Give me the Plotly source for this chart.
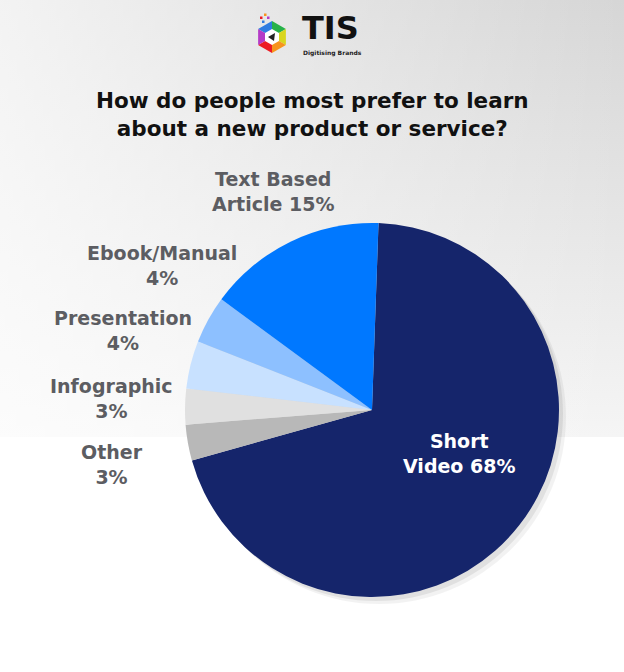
import math
import plotly.graph_objects as go

# survey answers, clockwise from 12 o'clock
labels = ["Short Video", "Other", "Infographic", "Presentation", "Ebook/Manual", "Text Based Article"]
shares = [68, 3, 3, 4, 4, 15]
colors = ["#15256b", "#b8b8b8", "#e0e0e0", "#c8e1ff", "#8dc0ff", "#0078ff"]

# label text as it sits on the picture
label_lines = {
    "Short Video": ["Short", "Video 68%"],
    "Other": ["Other", "3%"],
    "Infographic": ["Infographic", "3%"],
    "Presentation": ["Presentation", "4%"],
    "Ebook/Manual": ["Ebook/Manual", "4%"],
    "Text Based Article": ["Text Based", "Article 15%"],
}
label_pos = {
    "Short Video": (459, 453),
    "Other": (112, 464),
    "Infographic": (111, 398),
    "Presentation": (123, 330),
    "Ebook/Manual": (162, 266),
    "Text Based Article": (273, 191),
}

W, H = 624, 672
FONT = "DejaVu Sans"
cx, cy, r = 372, 410, 187


def px_x(v):
    return v / W


def px_y(v):
    return 1 - v / H


def pie_domain(ox=0, oy=0):
    return dict(x=[px_x(cx - r + ox), px_x(cx + r + ox)],
                y=[px_y(cy + r + oy), px_y(cy - r + oy)])


def note(x, y, text, size, color, weight=700):
    return dict(x=px_x(x), y=px_y(y), xref="paper", yref="paper", showarrow=False,
                xanchor="center", yanchor="middle", align="center", text=text,
                font=dict(family=FONT, size=size, color=color, weight=weight))


fig = go.Figure()

# grey backdrop in the upper part of the page
band_top = 437
fig.add_trace(go.Scatter(
    x=[0, 1, 1, 0, 0], y=[0, 0, 1, 1, 0], mode="lines", line=dict(width=0),
    fill="toself", hoverinfo="skip", showlegend=False,
    fillgradient=dict(type="vertical", colorscale=[[0, "#f5f5f5"], [1, "#d6d6d6"]]),
))
fig.add_trace(go.Scatter(
    x=[0, 1, 1, 0, 0], y=[0, 0, 1, 1, 0], mode="lines", line=dict(width=0),
    fill="toself", hoverinfo="skip", showlegend=False,
    fillgradient=dict(type="horizontal",
                      colorscale=[[0, "rgba(255,255,255,0.7)"], [1, "rgba(255,255,255,0)"]]),
))

# soft drop shadow under the pie
for off, a in [(7, 0.05), (4, 0.07)]:
    fig.add_trace(go.Pie(values=[1], marker=dict(colors=["rgba(0,0,0,%s)" % a]),
                         textinfo="none", hoverinfo="skip", showlegend=False,
                         domain=pie_domain(off, off)))

fig.add_trace(go.Pie(
    labels=labels, values=shares, sort=False, direction="clockwise", rotation=2,
    marker=dict(colors=colors, line=dict(width=0)),
    textinfo="none", showlegend=False, domain=pie_domain(),
))

annotations = []
for lab in labels:
    x, y = label_pos[lab]
    col = "white" if lab == "Short Video" else "#5c5d62"
    annotations.append(note(x, y, "<br>".join(label_lines[lab]), 19, col))

annotations.append(note(312, 114, "How do people most prefer to learn<br>about a new product or service?",
                        21.5, "#111111"))

# logo
annotations.append(note(330, 28, "TIS", 32, "#111111", 900))
annotations.append(note(332, 53, "Digitising Brands", 6, "#222222"))

hex_cols = ["#2f7de1", "#27b24a", "#d9d61e", "#f7941d", "#ec1c24", "#b43bc7"]
shapes = []
hr = 16
pts = [(hr * math.sin(math.radians(60 * k)), hr * math.cos(math.radians(60 * k))) for k in range(6)]
logo = dict(xref="paper", yref="paper", xsizemode="pixel", ysizemode="pixel",
            xanchor=px_x(272), yanchor=px_y(37), line=dict(width=0), layer="above")
for k in range(6):
    (x1, y1), (x2, y2) = pts[k - 1], pts[k]
    shapes.append(dict(type="path", path="M 0 0 L %.1f %.1f L %.1f %.1f Z" % (x1, y1, x2, y2),
                       fillcolor=hex_cols[k], **logo))
shapes.append(dict(type="path", path="M 0 8 L 7 4 L 7 -4 L 0 -8 L -7 -4 L -7 4 Z",
                   fillcolor="white", **logo))
shapes.append(dict(type="path", path="M -4 0 L 3 4 L 2 -4 Z", fillcolor="#222222", **logo))
for (dx, dy, c) in [(-12, 18, "#ec1c24"), (-8, 21, "#f7941d"), (-5, 18, "#b43bc7"), (-10, 14, "#2f7de1")]:
    shapes.append(dict(type="rect", x0=dx, x1=dx + 2.5, y0=dy, y1=dy + 2.5, fillcolor=c, **logo))

fig.update_layout(
    width=W, height=H, margin=dict(l=0, r=0, t=0, b=0),
    paper_bgcolor="white", plot_bgcolor="rgba(0,0,0,0)",
    xaxis=dict(range=[0, 1], domain=[0, 1], visible=False, fixedrange=True),
    yaxis=dict(range=[0, 1], domain=[px_y(band_top), 1], visible=False, fixedrange=True),
    annotations=annotations, shapes=shapes,
)

fig.write_html("out.html", config={"displayModeBar": False},
               post_script="document.body.style.margin='0';")
